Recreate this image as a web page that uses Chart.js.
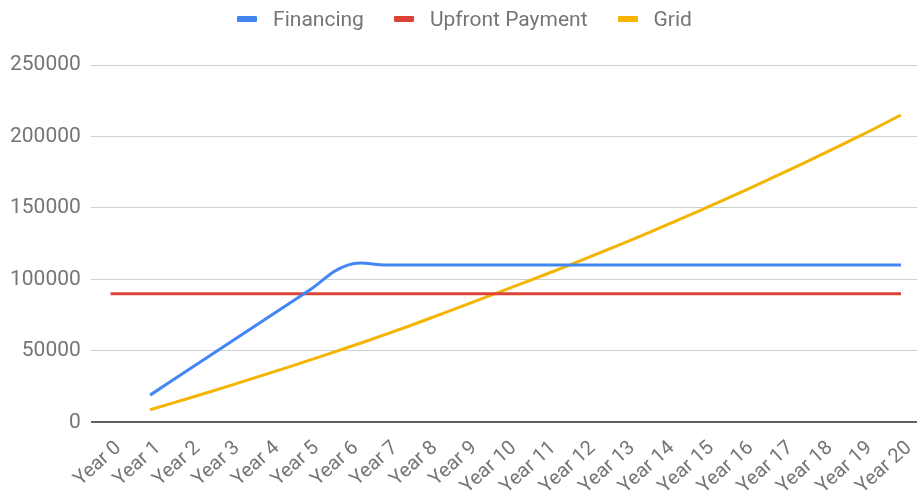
<!DOCTYPE html>
<html>
<head>
<meta charset="utf-8">
<script src="https://cdn.jsdelivr.net/npm/chart.js@4.4.1/dist/chart.umd.min.js"></script>
<style>
  html, body { margin: 0; padding: 0; background: #fff; width: 917px; height: 494px; overflow: hidden; }
  #wrap { position: absolute; left: 0; top: 0; width: 923px; height: 494px; }
  #legend { position: absolute; left: 6px; top: 0; width: 917px; height: 38px; display: flex; justify-content: center; align-items: center; font-family: Roboto, sans-serif; font-size: 21px; color: #757575; z-index: 2; }
  .item { display: flex; align-items: center; margin: 0 15px; }
  .box { width: 20px; height: 6px; border-radius: 1px; margin-right: 16px; }
</style>
</head>
<body>
<div id="legend"></div>
<div id="wrap"><canvas id="c"></canvas></div>
<script>
const categories = ["Year 0","Year 1","Year 2","Year 3","Year 4","Year 5","Year 6","Year 7","Year 8","Year 9","Year 10","Year 11","Year 12","Year 13","Year 14","Year 15","Year 16","Year 17","Year 18","Year 19","Year 20"];
const seriesNames = ["Financing", "Upfront Payment", "Grid"];
const financing = [null, 19000, 37200, 55400, 73600, 91800, 110000, 110000, 110000, 110000, 110000, 110000, 110000, 110000, 110000, 110000, 110000, 110000, 110000, 110000, 110000];
const upfront = [90000, 90000, 90000, 90000, 90000, 90000, 90000, 90000, 90000, 90000, 90000, 90000, 90000, 90000, 90000, 90000, 90000, 90000, 90000, 90000, 90000];
const grid = [null, 8800, 17000, 25500, 34200, 43100, 52300, 61900, 71900, 82300, 92800, 103400, 114300, 125600, 137200, 149200, 161500, 174300, 187400, 200900, 215000];
const colors = ["#4285F4", "#DB4437", "#F4B400"];

const seriesValues = [financing, upfront, grid];

// HTML legend
const legend = document.getElementById('legend');
seriesNames.forEach((name, i) => {
  const it = document.createElement('div'); it.className = 'item';
  const b = document.createElement('span'); b.className = 'box'; b.style.background = colors[i];
  const t = document.createElement('span'); t.textContent = name;
  it.appendChild(b); it.appendChild(t); legend.appendChild(it);
});

new Chart(document.getElementById('c'), {
  type: 'line',
  data: {
    labels: categories,
    datasets: seriesNames.map((name, i) => ({
      label: name,
      data: seriesValues[i],
      borderColor: colors[i],
      backgroundColor: colors[i],
      borderWidth: 3,
      pointRadius: 0,
      tension: 0.4,
      fill: false,
      spanGaps: false
    }))
  },
  options: {
    responsive: true,
    maintainAspectRatio: false,
    animation: false,
    layout: { padding: { top: 65, right: 0, bottom: -11, left: 0 } },
    plugins: { legend: { display: false }, tooltip: { enabled: false } },
    scales: {
      x: {
        offset: true,
        grid: { display: false },
        border: { display: false },
        ticks: {
          color: '#757575',
          font: { family: 'Roboto', size: 20 },
          minRotation: 42,
          maxRotation: 42,
          padding: 6,
          labelOffset: 8,
          autoSkip: false
        }
      },
      y: {
        min: 0,
        max: 250000,
        border: { display: false },
        grid: {
          drawTicks: false,
          color: (ctx) => ctx.tick && ctx.tick.value === 0 ? '#616161' : '#d0d0d0',
          lineWidth: (ctx) => ctx.tick && ctx.tick.value === 0 ? 2 : 1
        },
        ticks: {
          stepSize: 50000,
          color: '#757575',
          font: { family: 'Roboto', size: 21 },
          padding: 10,
          callback: (v) => String(v)
        }
      }
    }
  }
});
</script>
</body>
</html>
